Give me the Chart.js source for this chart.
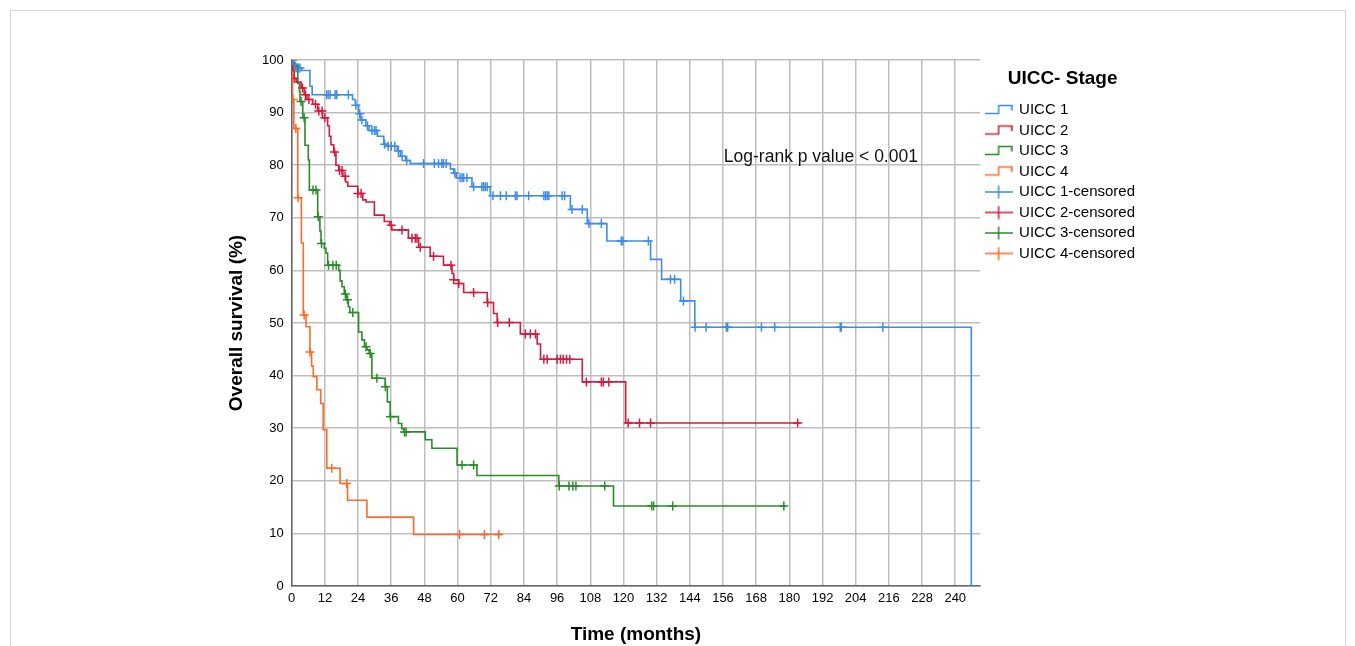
<!DOCTYPE html>
<html>
<head>
<meta charset="utf-8">
<script src="https://cdn.jsdelivr.net/npm/chart.js@4.4.1/dist/chart.umd.min.js"></script>
<style>
  html, body { margin: 0; padding: 0; background: #fff; overflow: hidden; }
  #frame { position: absolute; left: 10px; top: 10px; width: 1334px; height: 700px; border: 1px solid #d6d6d6; }
  #wrap { position: absolute; left: 0; top: 0; width: 1355px; height: 646px; }
</style>
</head>
<body>
<div id="frame"></div>
<div id="wrap"><canvas id="chart" width="1355" height="646"></canvas></div>
<script>
const FONT = 'Arial, "Liberation Sans", sans-serif';

const seriesNames = ["UICC 1", "UICC 2", "UICC 3", "UICC 4"];
const seriesColors = ["#3f8de3", "#d71a3e", "#2c8a2c", "#fd6a2b"];

// Kaplan-Meier steps: event time (months) and survival (%) after the event
const uicc1Times = [0, 0.4, 1.2, 3.6, 6.6, 7.4, 22.0, 23.0, 24.2, 24.8, 26.8, 28.0, 31.0, 33.3, 34.5, 38.2, 39.3, 41.2, 42.9, 57.4, 58.6, 59.5, 65.2, 71.8, 100.8, 106.9, 114.0, 129.8, 133.8, 140.7, 145.8, 245.8];
const uicc1Surv = [100, 99.2, 98.5, 98.0, 95.0, 93.4, 92.5, 91.4, 89.8, 88.6, 87.5, 86.6, 85.5, 84.0, 83.6, 82.7, 81.7, 80.9, 80.3, 79.3, 78.5, 77.6, 75.9, 74.2, 71.6, 68.9, 65.6, 62.1, 58.3, 54.2, 49.2, 0];
const uicc1Censored = [0.8, 1.6, 2.3, 3.0, 12.6, 13.2, 13.9, 15.7, 16.3, 20.5, 23.2, 24.6, 25.4, 27.4, 29.0, 29.9, 30.5, 33.6, 34.9, 36.0, 37.3, 38.6, 39.9, 41.6, 47.7, 51.6, 53.1, 54.3, 54.9, 55.9, 59.0, 60.9, 61.6, 62.2, 63.4, 65.8, 68.8, 69.4, 70.0, 70.7, 72.8, 75.5, 77.6, 80.9, 81.5, 85.7, 91.2, 91.8, 92.4, 93.0, 97.8, 98.7, 101.4, 105.1, 107.5, 112.0, 119.2, 119.8, 129.0, 137.0, 138.5, 141.7, 145.9, 149.9, 157.2, 157.7, 169.9, 174.7, 198.4, 198.8, 213.8];

const uicc2Times = [0, 0.4, 0.9, 1.6, 3.4, 4.5, 5.5, 7.6, 9.4, 11.2, 13.0, 13.6, 14.2, 15.2, 16.0, 17.0, 18.5, 19.5, 20.3, 23.9, 25.7, 26.9, 29.9, 33.5, 35.4, 36.2, 42.2, 45.9, 50.1, 54.9, 58.0, 58.6, 60.4, 62.2, 70.7, 73.0, 74.3, 82.7, 88.8, 90.0, 105.1, 120.8, 184.0];
const uicc2Surv = [100, 98.0, 96.5, 95.8, 94.7, 93.4, 92.5, 91.6, 90.3, 89.0, 87.5, 85.5, 83.9, 82.5, 80.0, 79.0, 77.9, 76.8, 76.0, 74.6, 73.4, 73.0, 70.5, 69.3, 68.6, 67.7, 66.1, 64.4, 62.7, 61.0, 59.4, 58.2, 57.5, 55.8, 53.9, 51.8, 50.1, 47.9, 46.0, 43.1, 38.8, 31.0, 31.0];
const uicc2Censored = [0.3, 0.9, 3.9, 5.0, 6.2, 8.6, 9.8, 11.0, 12.0, 15.5, 17.3, 18.2, 19.3, 23.9, 25.1, 36.0, 39.9, 43.5, 44.7, 45.3, 46.5, 51.3, 57.6, 58.6, 60.4, 65.8, 70.9, 74.5, 78.7, 84.5, 86.3, 88.2, 91.2, 92.4, 96.0, 97.2, 98.2, 99.4, 100.6, 106.6, 112.0, 112.7, 114.7, 121.7, 125.8, 129.8, 183.0];

const uicc3Times = [0, 0.4, 1.0, 2.2, 2.8, 3.0, 4.0, 4.8, 6.0, 6.4, 9.4, 10.2, 10.6, 11.8, 12.4, 13.0, 17.0, 17.5, 18.2, 19.0, 19.8, 20.5, 21.0, 24.2, 25.4, 26.3, 27.2, 28.0, 29.0, 33.8, 34.6, 35.6, 38.6, 39.8, 40.6, 48.3, 50.7, 59.8, 67.0, 96.6, 116.4, 178.7];
const uicc3Surv = [100, 99.4, 98.8, 95.6, 94.0, 92.1, 89.0, 83.8, 81.0, 75.3, 70.2, 67.5, 65.1, 64.2, 63.3, 61.0, 60.0, 58.0, 56.9, 55.5, 54.4, 53.1, 52.0, 48.3, 46.8, 45.5, 44.9, 44.2, 39.5, 37.9, 35.0, 32.2, 30.9, 29.9, 29.3, 27.8, 26.2, 23.0, 21.0, 19.0, 15.2, 15.2];
const uicc3Censored = [1.2, 3.4, 4.5, 7.7, 8.8, 9.6, 10.8, 13.3, 14.9, 16.1, 19.4, 20.2, 22.1, 26.9, 28.4, 30.8, 33.9, 35.7, 40.8, 41.4, 61.6, 65.8, 96.8, 100.3, 101.7, 102.8, 113.2, 130.2, 130.9, 137.8, 178.0];

const uicc4Times = [0, 0.3, 0.8, 2.2, 3.5, 4.2, 5.2, 6.6, 7.2, 7.8, 9.1, 10.5, 11.4, 12.7, 17.5, 20.2, 27.2, 44.1, 76.1];
const uicc4Surv = [100, 92.5, 87.0, 73.8, 65.2, 51.5, 49.3, 44.5, 41.8, 39.8, 37.3, 34.7, 29.7, 22.4, 19.5, 16.3, 13.1, 9.8, 9.8];
const uicc4Censored = [0.5, 1.5, 2.3, 4.5, 6.6, 14.5, 19.9, 60.7, 69.7, 74.9];

const xTicks = [0, 12, 24, 36, 48, 60, 72, 84, 96, 108, 120, 132, 144, 156, 168, 180, 192, 204, 216, 228, 240];
const yTicks = [0, 10, 20, 30, 40, 50, 60, 70, 80, 90, 100];
const pValueText = "Log-rank p value < 0.001";
const pValueAt = [156.3, 81.6];

const allTimes = [uicc1Times, uicc2Times, uicc3Times, uicc4Times];
const allSurv = [uicc1Surv, uicc2Surv, uicc3Surv, uicc4Surv];
const allCensored = [uicc1Censored, uicc2Censored, uicc3Censored, uicc4Censored];

// survival value of the step curve at time t
function survivalAt(times, surv, t) {
  let v = surv[0];
  for (let i = 0; i < times.length; i++) {
    if (times[i] <= t) v = surv[i];
  }
  return v;
}

function stepIcon(color) {
  const c = document.createElement('canvas');
  c.width = 28; c.height = 14;
  const g = c.getContext('2d');
  g.strokeStyle = color; g.lineWidth = 1.5;
  g.beginPath();
  g.moveTo(0, 10.5); g.lineTo(14, 10.5); g.lineTo(14, 2.5); g.lineTo(27, 2.5); g.lineTo(27, 7.5);
  g.stroke();
  return c;
}

function censorIcon(color) {
  const c = document.createElement('canvas');
  c.width = 28; c.height = 14;
  const g = c.getContext('2d');
  g.strokeStyle = color; g.lineWidth = 1.5;
  g.beginPath();
  g.moveTo(0, 7); g.lineTo(28, 7);
  g.moveTo(14, 0.5); g.lineTo(14, 13.5);
  g.stroke();
  return c;
}

const datasets = [];
seriesNames.forEach((name, i) => {
  datasets.push({
    label: name,
    data: allTimes[i].map((t, j) => ({x: t, y: allSurv[i][j]})),
    borderColor: seriesColors[i],
    borderWidth: 1.6,
    stepped: 'before',
    pointRadius: 0,
    fill: false,
    icon: stepIcon(seriesColors[i])
  });
});
seriesNames.forEach((name, i) => {
  datasets.push({
    label: name + "-censored",
    data: allCensored[i].map(t => ({x: t, y: survivalAt(allTimes[i], allSurv[i], t)})),
    showLine: false,
    pointStyle: 'cross',
    pointRadius: 4.5,
    pointBorderWidth: 1.5,
    pointBorderColor: seriesColors[i],
    borderColor: seriesColors[i],
    icon: censorIcon(seriesColors[i])
  });
});

const pValuePlugin = {
  id: 'pvalue',
  afterDatasetsDraw(chart) {
    const {ctx, scales} = chart;
    ctx.save();
    ctx.font = '17.5px ' + FONT;
    ctx.fillStyle = '#111';
    ctx.textBaseline = 'middle';
    ctx.textAlign = 'left';
    ctx.fillText(pValueText, scales.x.getPixelForValue(pValueAt[0]), scales.y.getPixelForValue(pValueAt[1]));
    ctx.restore();
  }
};

new Chart(document.getElementById('chart'), {
  type: 'line',
  data: { datasets: datasets },
  plugins: [pValuePlugin],
  options: {
    responsive: false,
    animation: false,
    devicePixelRatio: 1,
    layout: { padding: { left: 220, top: 60, right: 210, bottom: 0 } },
    scales: {
      x: {
        type: 'linear',
        min: 0,
        max: 249,
        afterBuildTicks: s => { s.ticks = xTicks.map(v => ({value: v})); },
        afterFit: s => { s.height = 60; },
        grid: { color: '#bebebe', lineWidth: 1.5, drawTicks: false },
        border: { color: '#666', width: 1.5 },
        ticks: { color: '#000', padding: 5, maxRotation: 0, autoSkip: false, font: { family: FONT, size: 13 } },
        title: { display: true, text: 'Time (months)', color: '#000', padding: { top: 0, bottom: 0 }, font: { family: FONT, size: 19, weight: 'bold' } }
      },
      y: {
        min: 0,
        max: 100,
        afterBuildTicks: s => { s.ticks = yTicks.map(v => ({value: v})); },
        afterFit: s => { s.width = 71.7; },
        grid: { color: '#bebebe', lineWidth: 1.5, drawTicks: false },
        border: { color: '#666', width: 1.5 },
        ticks: { color: '#000', padding: 8, font: { family: FONT, size: 13 } },
        title: { display: true, text: 'Overall survival (%)', color: '#000', padding: { top: 5, bottom: 0 }, font: { family: FONT, size: 19, weight: 'bold' } }
      }
    },
    plugins: {
      tooltip: { enabled: false },
      legend: {
        position: 'right',
        align: 'start',
        title: { display: true, text: 'UICC- Stage', color: '#000', padding: { top: 9.5, bottom: 4.7 }, font: { family: FONT, size: 19, weight: 'bold' } },
        labels: {
          usePointStyle: true,
          pointStyleWidth: 26,
          padding: 5.5,
          color: '#000',
          font: { family: FONT, size: 15 },
          generateLabels: chart => chart.data.datasets.map((ds, i) => ({
            text: ds.label,
            pointStyle: ds.icon,
            fillStyle: ds.borderColor,
            strokeStyle: ds.borderColor,
            lineWidth: 0,
            fontColor: '#000',
            hidden: false,
            datasetIndex: i
          }))
        }
      }
    }
  }
});
</script>
</body>
</html>
